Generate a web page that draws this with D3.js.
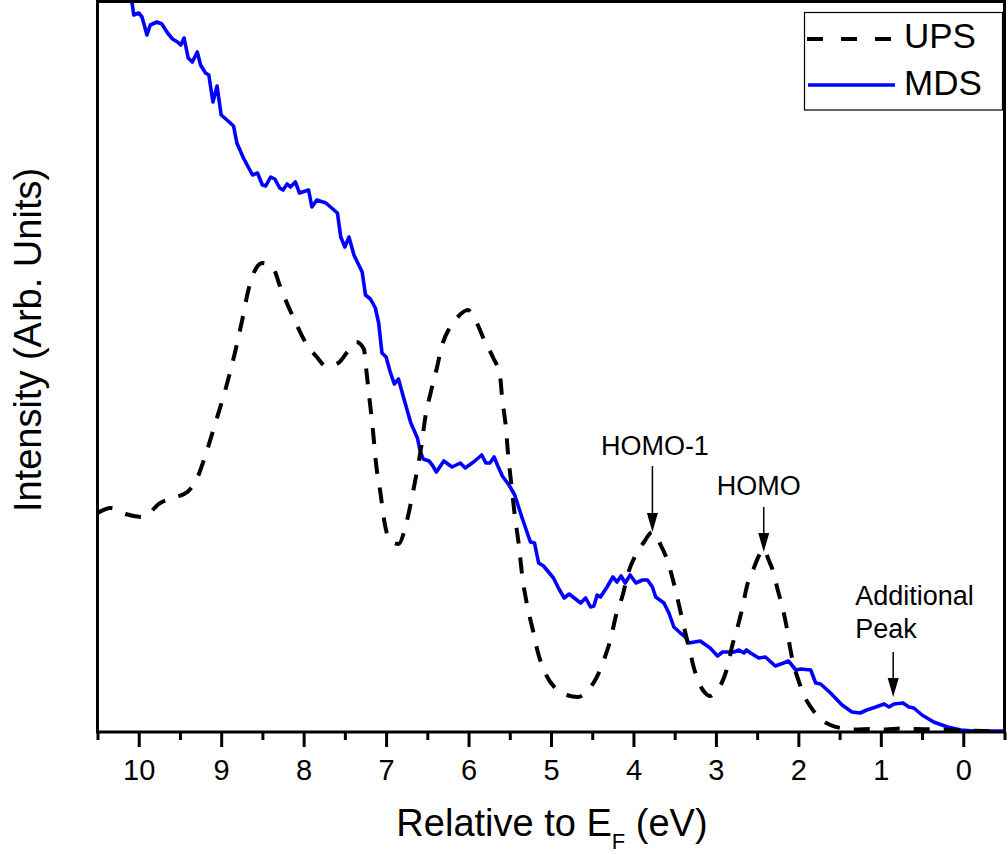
<!DOCTYPE html>
<html>
<head>
<meta charset="utf-8">
<script src="https://cdn.jsdelivr.net/npm/d3@7"></script>
<style>
  body { margin: 0; background: #fff; }
  svg text { font-family: "Liberation Sans", Arial, sans-serif; fill: #000; }
</style>
</head>
<body>
<div id="chart"></div>
<script>
// UPS spectrum (dashed), energy relative to E_F in eV, intensity arb. units
const upsEnergy = [
  10.50,10.34,10.16,9.95,9.74,9.55,9.41,9.29,9.19,9.07,
  8.95,8.84,8.75,8.67,8.60,8.50,8.38,8.27,8.10,7.98,
  7.84,7.73,7.58,7.47,7.36,7.27,7.24,7.20,7.16,7.12,
  7.07,7.02,6.95,6.85,6.76,6.70,6.63,6.57,6.52,6.46,
  6.39,6.32,6.23,6.12,6.01,5.90,5.81,5.70,5.62,5.59,
  5.55,5.52,5.48,5.44,5.39,5.35,5.29,5.22,5.16,5.07,
  4.95,4.81,4.67,4.55,4.45,4.35,4.28,4.21,4.13,4.06,
  3.98,3.88,3.77,3.67,3.59,3.53,3.47,3.42,3.37,3.32,
  3.27,3.21,3.14,3.07,2.99,2.93,2.86,2.80,2.74,2.68,
  2.62,2.54,2.48,2.42,2.36,2.30,2.25,2.19,2.14,2.10,
  2.05,2.00,1.94,1.85,1.73,1.61,1.49,1.31,1.12,0.94,
  0.76,0.58,0.34,0.03,-0.27,-0.50
];
const upsIntensity = [
  219,224,218,215,229,235,240,254,277,309,
  342,377,410,442,460,469,465,442,410,390,
  375,366,369,380,390,383,362,332,302,267,
  240,210,191,188,207,229,259,287,317,339,
  362,387,404,416,422,409,392,374,357,332,
  307,277,247,217,187,157,127,102,80,59,
  44,37,35,42,54,74,92,117,137,160,
  176,189,200,187,172,155,135,117,99,82,
  65,50,40,36,42,49,65,87,104,124,
  147,164,176,183,172,159,142,124,104,84,
  65,52,38,25,13,7,4,2.5,3,2.5,
  3.5,3,2.5,1.5,1,1
];

// MDS spectrum (solid blue)
const mdsEnergy = [
  10.10,10.06,10.00,9.96,9.90,9.86,9.78,9.72,9.65,9.59,
  9.53,9.49,9.45,9.40,9.35,9.29,9.25,9.19,9.15,9.10,
  9.05,9.00,8.93,8.85,8.81,8.73,8.62,8.56,8.50,8.46,
  8.40,8.35,8.29,8.25,8.20,8.16,8.10,8.05,7.94,7.90,
  7.84,7.73,7.59,7.55,7.50,7.45,7.39,7.29,7.25,7.19,
  7.13,7.09,7.05,7.00,6.95,6.90,6.85,6.79,6.70,6.62,
  6.59,6.55,6.48,6.44,6.39,6.30,6.20,6.10,6.04,5.94,
  5.84,5.79,5.74,5.69,5.65,5.59,5.51,5.44,5.35,5.25,
  5.20,5.15,5.09,4.97,4.91,4.84,4.78,4.64,4.58,4.52,
  4.48,4.44,4.40,4.32,4.25,4.20,4.15,4.10,4.04,3.97,
  3.89,3.83,3.77,3.73,3.63,3.57,3.51,3.43,3.37,3.33,
  3.19,3.07,2.98,2.92,2.78,2.72,2.66,2.63,2.58,2.48,
  2.40,2.28,2.18,2.12,2.03,1.97,1.85,1.79,1.73,1.61,
  1.47,1.35,1.25,1.17,1.06,0.96,0.90,0.84,0.73,0.66,
  0.60,0.50,0.36,0.19,0.03,-0.13,-0.50
];
const mdsIntensity = [
  740,717,719,715,697,707,710,708,699,693,
  690,687,694,674,670,680,667,659,657,630,
  646,617,612,606,589,574,557,559,547,546,
  555,553,544,542,548,545,550,539,542,525,
  532,529,519,495,485,495,477,460,437,433,
  424,409,379,375,360,348,353,335,309,294,
  282,273,271,267,260,271,265,269,264,270,
  277,269,269,275,267,256,247,237,214,190,
  189,169,166,154,144,134,138,129,134,125,
  126,137,135,145,155,150,156,149,157,149,
  152,152,145,135,129,119,105,99,95,89,
  91,84,76,80,80,82,79,82,79,74,
  75,66,69,71,62,63,62,49,48,39,
  27,20,19,22,25,28,25,28,29,25,
  24,17,10,5,2,1,1
];

const majorTicks = [10, 9, 8, 7, 6, 5, 4, 3, 2, 1, 0];
const minorTicks = [10.5, 9.5, 8.5, 7.5, 6.5, 5.5, 4.5, 3.5, 2.5, 1.5, 0.5, -0.5];

const legendLabels = ["UPS", "MDS"];

// annotations: label lines, anchor energy, baseline intensity, arrow from/to intensity
const annoLines = [["HOMO-1"], ["HOMO"], ["Additional", "Peak"]];
const annoTextEnergy = [3.74, 2.48, 1.31];
const annoTextLevel = [277, 237, 127];
const annoArrowEnergy = [3.77, 2.42, 0.85];
const annoArrowFrom = [266, 225, 80];
const annoArrowTo = [200, 180, 35];

const width = 1008;
const height = 854;
const plot = { left: 97.5, right: 1004.5, top: 1.5, bottom: 732 };

function drawChart() {
  const svg = d3.select("#chart")
    .append("svg")
    .attr("width", width)
    .attr("height", height);

  const x = d3.scaleLinear().domain([10.5, -0.5]).range([plot.left, plot.right]);
  const y = d3.scaleLinear().domain([0, 730.5]).range([plot.bottom, plot.top]);

  svg.append("clipPath").attr("id", "plot-clip")
    .append("rect")
    .attr("x", plot.left).attr("y", plot.top)
    .attr("width", plot.right - plot.left)
    .attr("height", plot.bottom - plot.top);

  const ups = upsEnergy.map((e, i) => ({ e: e, v: upsIntensity[i] }));
  const mds = mdsEnergy.map((e, i) => ({ e: e, v: mdsIntensity[i] }));

  const mdsLine = d3.line().x(d => x(d.e)).y(d => y(d.v));
  const upsLine = d3.line().x(d => x(d.e)).y(d => y(d.v)).curve(d3.curveMonotoneX);

  const lines = svg.append("g").attr("clip-path", "url(#plot-clip)");

  lines.append("path")
    .datum(mds)
    .attr("fill", "none")
    .attr("stroke", "#0000ff")
    .attr("stroke-width", 3.6)
    .attr("stroke-linejoin", "round")
    .attr("d", mdsLine);

  lines.append("path")
    .datum(ups)
    .attr("fill", "none")
    .attr("stroke", "#000")
    .attr("stroke-width", 4)
    .attr("stroke-dasharray", "16,14")
    .attr("d", upsLine);

  // bottom axis, major and minor ticks
  const major = d3.axisBottom(x)
    .tickValues(majorTicks)
    .tickSize(15)
    .tickPadding(12)
    .tickFormat(d3.format("d"));

  const minor = d3.axisBottom(x)
    .tickValues(minorTicks)
    .tickSize(8)
    .tickFormat("");

  const gMinor = svg.append("g")
    .attr("transform", `translate(0,${plot.bottom})`)
    .call(minor);
  gMinor.select(".domain").remove();
  gMinor.selectAll(".tick line").attr("stroke-width", 3);

  const gMajor = svg.append("g")
    .attr("transform", `translate(0,${plot.bottom})`)
    .call(major);
  gMajor.select(".domain").remove();
  gMajor.selectAll(".tick line").attr("stroke-width", 3);
  gMajor.selectAll(".tick text")
    .attr("font-family", "Liberation Sans, Arial, sans-serif")
    .style("font-size", "29px");

  // frame
  svg.append("rect")
    .attr("x", plot.left)
    .attr("y", plot.top)
    .attr("width", plot.right - plot.left)
    .attr("height", plot.bottom - plot.top)
    .attr("fill", "none")
    .attr("stroke", "#000")
    .attr("stroke-width", 3);

  // axis titles
  const xTitle = svg.append("text")
    .attr("x", (plot.left + plot.right) / 2 + 1)
    .attr("y", 836)
    .attr("text-anchor", "middle")
    .style("font-size", "38px");
  xTitle.append("tspan").text("Relative to E");
  xTitle.append("tspan").attr("dy", 13).style("font-size", "22px").text("F");
  xTitle.append("tspan").attr("dy", -13).text(" (eV)");

  svg.append("text")
    .attr("transform", "translate(41,340) rotate(-90)")
    .attr("text-anchor", "middle")
    .style("font-size", "38px")
    .text("Intensity (Arb. Units)");

  // legend
  const legend = svg.append("g");
  legend.append("rect")
    .attr("x", 804.5).attr("y", 12.5)
    .attr("width", 198).attr("height", 97.5)
    .attr("fill", "#fff")
    .attr("stroke", "#000")
    .attr("stroke-width", 1.2);

  legend.append("line")
    .attr("x1", 807).attr("x2", 893)
    .attr("y1", 39).attr("y2", 39)
    .attr("stroke", "#000").attr("stroke-width", 4)
    .attr("stroke-dasharray", "16,18");
  legend.append("line")
    .attr("x1", 808).attr("x2", 895)
    .attr("y1", 85).attr("y2", 85)
    .attr("stroke", "#0000ff").attr("stroke-width", 3.6);

  legend.selectAll(".legend-label")
    .data(legendLabels)
    .enter()
    .append("text")
    .attr("class", "legend-label")
    .attr("x", 904)
    .attr("y", (d, i) => 48 + i * 47)
    .style("font-size", "35px")
    .text(d => d);

  // annotations
  const anno = svg.append("g");
  annoLines.forEach((lbl, i) => {
    const anchor = i === 2 ? "start" : "middle";
    lbl.forEach((t, j) => {
      anno.append("text")
        .attr("x", x(annoTextEnergy[i]))
        .attr("y", y(annoTextLevel[i]) + j * 33)
        .attr("text-anchor", anchor)
        .style("font-size", "27px")
        .text(t);
    });

    const ax = x(annoArrowEnergy[i]);
    const y1 = y(annoArrowFrom[i]);
    const y2 = y(annoArrowTo[i]);
    const headLen = 19, headHalf = 5.5;
    anno.append("line")
      .attr("x1", ax).attr("x2", ax)
      .attr("y1", y1).attr("y2", y2 - headLen + 2)
      .attr("stroke", "#000").attr("stroke-width", 1.5);
    anno.append("path")
      .attr("d", `M${ax},${y2} L${ax - headHalf},${y2 - headLen} L${ax + headHalf},${y2 - headLen} Z`)
      .attr("fill", "#000");
  });
}

drawChart();
</script>
</body>
</html>
